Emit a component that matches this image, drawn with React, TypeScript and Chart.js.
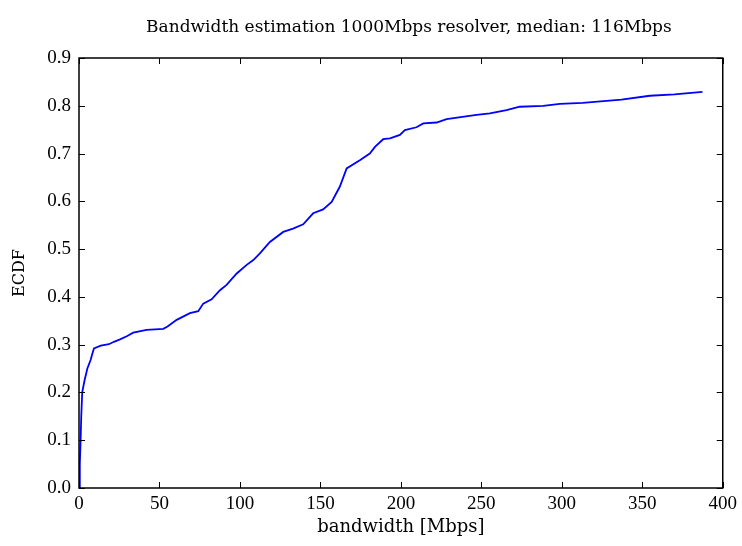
import React, { useEffect, useRef } from "react";
import { Chart, registerables } from "chart.js";

Chart.register(...registerables);

const TITLE = "Bandwidth estimation 1000Mbps resolver, median: 116Mbps";
const X_LABEL = "bandwidth [Mbps]";
const Y_LABEL = "ECDF";

const bandwidth = [
  0, 0.5, 1, 1.4, 2, 3.5, 5.2, 7.2, 8.2, 9.3, 13.5, 18.6, 21.7, 25.5, 30, 33.7, 42, 52.4, 55, 60.7,
  68.9, 74.1, 77.2, 82.4, 87.6, 91.7, 98, 104.2, 108.3, 112.4, 118.6, 126.9, 133, 139.3, 145.5, 151.7,
  157, 162.1, 166.3, 174.5, 180.7, 183.9, 189, 193.2, 199.4, 202.5, 209.7, 213.9, 222.2, 228.4, 247,
  255.3, 265.6, 273.9, 288.4, 298.8, 313, 337, 354.7, 370, 387.4,
];
const ecdf = [
  0, 0.05, 0.1, 0.15, 0.2, 0.226, 0.25, 0.268, 0.28, 0.292, 0.298, 0.301, 0.306, 0.311, 0.318, 0.325,
  0.331, 0.333, 0.338, 0.352, 0.366, 0.37, 0.386, 0.395, 0.414, 0.425, 0.449, 0.467, 0.477, 0.491,
  0.515, 0.536, 0.543, 0.552, 0.575, 0.583, 0.599, 0.631, 0.669, 0.686, 0.7, 0.714, 0.73, 0.732, 0.739,
  0.749, 0.755, 0.763, 0.765, 0.772, 0.781, 0.784, 0.791, 0.798, 0.8, 0.804, 0.806, 0.813, 0.821,
  0.824, 0.829,
];
const xTicks = [0, 50, 100, 150, 200, 250, 300, 350, 400];
const yTicks = [0, 0.1, 0.2, 0.3, 0.4, 0.5, 0.6, 0.7, 0.8, 0.9];

const FONT = "'DejaVu Serif', 'Liberation Serif', serif";
const TICK_FONT = "'Liberation Serif', 'DejaVu Serif', serif";

const framePlugin = {
  id: "frameTicks",
  afterDraw(chart: any) {
    const { ctx, chartArea: a, scales } = chart;
    const xs = scales.x;
    const ys = scales.y;
    const L = 6;
    ctx.save();
    ctx.strokeStyle = "#000";
    ctx.lineWidth = 1;
    ctx.beginPath();
    for (const v of xTicks) {
      const px = Math.round(xs.getPixelForValue(v)) + 0.5;
      ctx.moveTo(px, a.bottom);
      ctx.lineTo(px, a.bottom - L);
      ctx.moveTo(px, a.top);
      ctx.lineTo(px, a.top + L);
    }
    for (const v of yTicks) {
      const py = Math.round(ys.getPixelForValue(v)) + 0.5;
      ctx.moveTo(a.left, py);
      ctx.lineTo(a.left + L, py);
      ctx.moveTo(a.right, py);
      ctx.lineTo(a.right - L, py);
    }
    ctx.stroke();
    ctx.lineWidth = 1.5;
    ctx.strokeRect(a.left, a.top, a.right - a.left, a.bottom - a.top);
    ctx.fillStyle = "#000";
    ctx.font = `17px ${FONT}`;
    ctx.textAlign = "center";
    ctx.textBaseline = "alphabetic";
    ctx.fillText(TITLE, (a.left + a.right) / 2 + 8, 32);
    ctx.restore();
  },
};

export default function App() {
  const ref = useRef<HTMLCanvasElement>(null);
  useEffect(() => {
    document.body.style.margin = "0";
    const data = bandwidth.map((x, i) => ({ x, y: ecdf[i] }));
    const chart = new Chart(ref.current!, {
      type: "line",
      data: {
        datasets: [
          {
            data,
            borderColor: "#0000ff",
            borderWidth: 1.8,
            pointRadius: 0,
            fill: false,
            tension: 0,
          },
        ],
      },
      options: {
        animation: false,
        responsive: false,
        maintainAspectRatio: false,
        layout: { padding: { top: 58, right: 19, left: 10, bottom: 8 } },
        plugins: { legend: { display: false }, title: { display: false }, tooltip: { enabled: false } },
        scales: {
          x: {
            type: "linear",
            min: 0,
            max: 400,
            afterBuildTicks: (s: any) => {
              s.ticks = xTicks.map((v) => ({ value: v }));
            },
            afterFit: (s: any) => {
              s.height = 50;
            },
            grid: { display: false, drawTicks: false },
            border: { display: false },
            ticks: {
              padding: 5,
              color: "#000",
              font: { family: TICK_FONT, size: 19 },
              maxRotation: 0,
              callback: (v: any) => String(v),
            },
            title: {
              display: true,
              text: X_LABEL,
              color: "#000",
              font: { family: FONT, size: 18 },
              padding: { top: 0, bottom: 0 },
            },
          },
          y: {
            type: "linear",
            min: 0,
            max: 0.9,
            afterBuildTicks: (s: any) => {
              s.ticks = yTicks.map((v) => ({ value: v }));
            },
            afterFit: (s: any) => {
              s.width = 69;
            },
            grid: { display: false, drawTicks: false },
            border: { display: false },
            ticks: {
              padding: 8,
              color: "#000",
              font: { family: TICK_FONT, size: 19 },
              callback: (v: any) => Number(v).toFixed(1),
            },
            title: {
              display: true,
              text: Y_LABEL,
              color: "#000",
              font: { family: FONT, size: 16 },
              padding: { top: 0, bottom: 0 },
            },
          },
        },
      },
      plugins: [framePlugin],
    });
    return () => chart.destroy();
  }, []);
  return (
    <div style={{ width: 742, height: 546, background: "#fff" }}>
      <canvas ref={ref} width={742} height={546} style={{ display: "block" }} />
    </div>
  );
}
